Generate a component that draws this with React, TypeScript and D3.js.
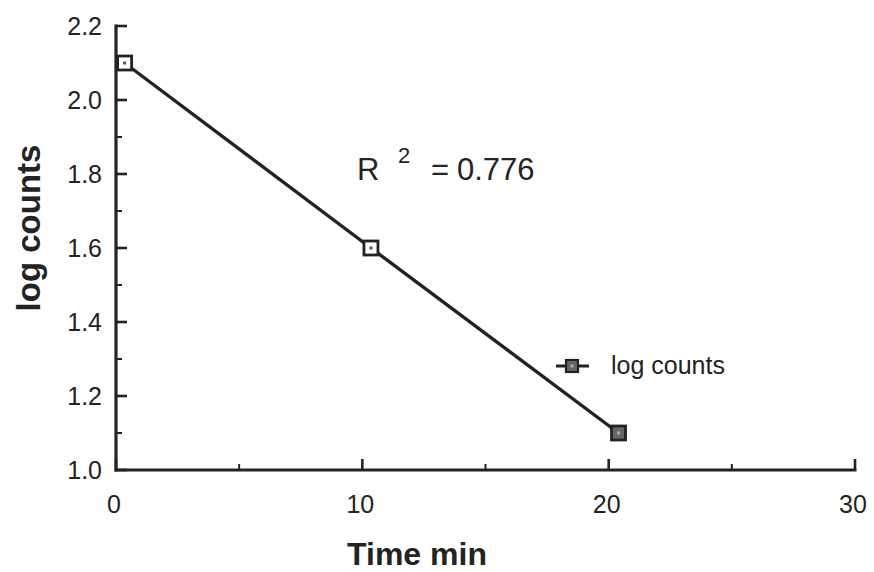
import React from "react";
import * as d3 from "d3";

// Measurements: time (min) vs log counts
const timeMin = [0.35, 10.35, 20.4];
const logCounts = [2.1, 1.6, 1.1];
const seriesName = "log counts";
const rSquared = "0.776";

const xMajorTicks = [0, 10, 20, 30];
const xMinorTicks = [5, 15, 25];
const yMajorTicks = [1.0, 1.2, 1.4, 1.6, 1.8, 2.0, 2.2];
const yMinorTicks = [1.1, 1.3, 1.5, 1.7, 1.9, 2.1];

const W = 874;
const H = 572;
const ink = "#232323";
const font = "'Liberation Sans', Arial, Helvetica, sans-serif";

export default function App() {
  const x = d3.scaleLinear().domain([0, 30]).range([116, 855]);
  const y = d3.scaleLinear().domain([1.0, 2.2]).range([470, 26]);

  const line = d3
    .line<number>()
    .x((_, i) => x(timeMin[i]))
    .y((d) => y(d));

  const pts = logCounts.map((v, i) => ({ cx: x(timeMin[i]), cy: y(v), i }));
  const ms = 14;
  const last = pts.length - 1;

  return (
    <svg
      width={W}
      height={H}
      style={{ position: "absolute", left: 0, top: 0, background: "#fff" }}
      fontFamily={font}
    >
      <rect width={W} height={H} fill="#fff" />
      {/* axes */}
      <line x1={x(0)} x2={x(0)} y1={y(2.2) - 1.5} y2={y(1.0) + 1.5} stroke={ink} strokeWidth={3.2} />
      <line x1={x(0) - 1.5} x2={x(30) + 1.5} y1={y(1.0)} y2={y(1.0)} stroke={ink} strokeWidth={3.2} />

      {yMajorTicks.map((t) => (
        <g key={"ym" + t}>
          <line x1={x(0)} x2={x(0) + 11} y1={y(t)} y2={y(t)} stroke={ink} strokeWidth={2.6} />
          <text x={102} y={y(t)} dy="0.36em" textAnchor="end" fontSize={25} fill={ink}>
            {t.toFixed(1)}
          </text>
        </g>
      ))}
      {yMinorTicks.map((t) => (
        <line key={"yn" + t} x1={x(0)} x2={x(0) + 6} y1={y(t)} y2={y(t)} stroke={ink} strokeWidth={2} />
      ))}
      {xMajorTicks.map((t) => (
        <g key={"xm" + t}>
          <line x1={x(t)} x2={x(t)} y1={y(1.0)} y2={y(1.0) - 11} stroke={ink} strokeWidth={2.6} />
          <text x={x(t) - 2} y={513} textAnchor="middle" fontSize={25} fill={ink}>
            {t}
          </text>
        </g>
      ))}
      {xMinorTicks.map((t) => (
        <line key={"xn" + t} x1={x(t)} x2={x(t)} y1={y(1.0)} y2={y(1.0) - 6} stroke={ink} strokeWidth={2} />
      ))}

      {/* axis titles */}
      <text x={417} y={565} textAnchor="middle" fontSize={32} fontWeight="bold" fill={ink}>
        Time min
      </text>
      <text
        transform={`translate(40,${228}) rotate(-90)`}
        textAnchor="middle"
        fontSize={33}
        fontWeight="bold"
        fill={ink}
      >
        log counts
      </text>

      {/* series */}
      <path d={line(logCounts) ?? ""} fill="none" stroke={ink} strokeWidth={3.4} />
      {pts.map((p) => (
        <g key={"p" + p.i}>
          <rect
            x={p.cx - ms / 2}
            y={p.cy - ms / 2}
            width={ms}
            height={ms}
            fill={p.i === last ? "#666" : "#fff"}
            stroke={ink}
            strokeWidth={2.8}
          />
          <rect x={p.cx - 1.5} y={p.cy - 1.5} width={3} height={3} fill={p.i === last ? "#aaa" : "#555"} />
        </g>
      ))}

      {/* regression annotation */}
      <text x={357} y={180} fontSize={31} fill={ink}>R</text>
      <text x={398} y={163} fontSize={22} fill={ink}>2</text>
      <text x={431} y={180} fontSize={31} fill={ink}>=</text>
      <text x={457} y={180} fontSize={31} fill={ink}>{rSquared}</text>

      {/* legend */}
      <line x1={556} x2={589} y1={366} y2={366} stroke={ink} strokeWidth={3.2} />
      <rect x={566} y={360} width={12} height={12} fill="#666" stroke={ink} strokeWidth={2.2} />
      <rect x={570.5} y={364.5} width={3} height={3} fill="#aaa" />
      <text x={611} y={374} fontSize={25} fill={ink}>
        {seriesName}
      </text>
    </svg>
  );
}
